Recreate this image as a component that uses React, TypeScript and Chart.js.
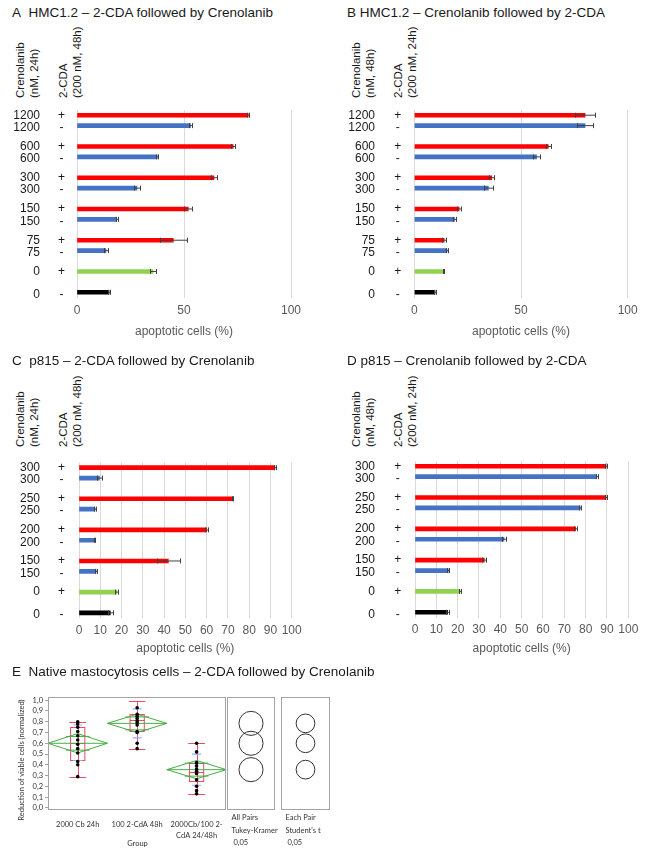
import React, { useEffect, useRef } from 'react';
import { Chart, registerables } from 'chart.js';

Chart.register(...registerables);

const FONT = '"Liberation Sans", Arial, Helvetica, sans-serif';
const EFONT = 'Lato, "Open Sans", sans-serif';

// ---------------- Panel A : HMC1.2 – 2-CDA followed by Crenolanib
const aTitle = 'A\u00a0\u00a0HMC1.2 – 2-CDA followed by Crenolanib';
const aHeadConc = ['Crenolanib', '(nM, 24h)'];
const aHeadCda = ['2-CDA', '(200 nM, 48h)'];
const aConc = ['1200', '1200', '600', '600', '300', '300', '150', '150', '75', '75', '0', '0'];
const aCda = ['+', '-', '+', '-', '+', '-', '+', '-', '+', '-', '+', '-'];
const aValues = [80, 53, 73, 37.5, 64, 28, 52, 18.5, 45, 13.5, 35.5, 15];
const aErrors = [0.5, 0.7, 1, 0.4, 1.3, 1.5, 1.8, 0.5, 6.2, 1, 1.3, 0.4];

// ---------------- Panel B : HMC1.2 – Crenolanib followed by 2-CDA
const bTitle = 'B HMC1.2 – Crenolanib followed by 2-CDA';
const bHeadConc = ['Crenolanib', '(nM, 48h)'];
const bHeadCda = ['2-CDA', '(200 nM, 24h)'];
const bConc = ['1200', '1200', '600', '600', '300', '300', '150', '150', '75', '75', '0', '0'];
const bCda = ['+', '-', '+', '-', '+', '-', '+', '-', '+', '-', '+', '-'];
const bValues = [80, 80, 62.8, 57.3, 36.3, 34.7, 21, 18.8, 14, 15.3, 13.8, 9.7];
const bErrors = [4.7, 3.7, 1.3, 1.5, 1.2, 2.2, 0.8, 0.8, 0.8, 0.4, 0.3, 0.5];

// ---------------- Panel C : p815 – 2-CDA followed by Crenolanib
const cTitle = 'C\u00a0\u00a0p815 – 2-CDA followed by Crenolanib';
const cHeadConc = ['Crenolanib', '(nM, 24h)'];
const cHeadCda = ['2-CDA', '(200 nM, 48h)'];
const cConc = ['300', '300', '250', '250', '200', '200', '150', '150', '0', '0'];
const cCda = ['+', '-', '+', '-', '+', '-', '+', '-', '+', '-'];
const cValues = [92.1, 9.6, 72.3, 7.5, 60, 7.2, 42, 8, 17.7, 14.7];
const cErrors = [0.5, 1, 0.3, 0.3, 0.7, 0.3, 5.3, 0.6, 0.8, 1.3];

// ---------------- Panel D : p815 – Crenolanib followed by 2-CDA
const dTitle = 'D p815 – Crenolanib followed by 2-CDA';
const dHeadConc = ['Crenolanib', '(nM, 48h)'];
const dHeadCda = ['2-CDA', '(200 nM, 24h)'];
const dConc = ['300', '300', '250', '250', '200', '200', '150', '150', '0', '0'];
const dCda = ['+', '-', '+', '-', '+', '-', '+', '-', '+', '-'];
const dValues = [89.5, 85.2, 89.5, 77.4, 75.3, 41.7, 32.5, 15.6, 21.1, 15.3];
const dErrors = [0.4, 0.5, 0.4, 0.6, 0.6, 0.8, 1, 0.5, 0.5, 0.6];

const xAxisTitle = 'apoptotic cells (%)';
const abTickStep = 50;
const cdTickStep = 10;

// ---------------- Panel E : Native mastocytosis cells
const eTitle = 'E\u00a0\u00a0Native mastocytosis cells – 2-CDA followed by Crenolanib';
const eYTitle = 'Reduction of viable cells (normalized)';
const eXTitle = 'Group';
const eGroupLines = [['2000 Cb 24h'], ['100 2-CdA 48h'], ['2000Cb/100 2-', 'CdA 24/48h']];
const eDots1 = [0.8, 0.78, 0.75, 0.71, 0.67, 0.63, 0.59, 0.55, 0.51, 0.43, 0.4, 0.29];
const eDots2 = [0.93, 0.87, 0.85, 0.83, 0.81, 0.79, 0.77, 0.71, 0.7, 0.6, 0.55];
const eDots3 = [0.6, 0.52, 0.42, 0.39, 0.36, 0.34, 0.32, 0.26, 0.2, 0.16, 0.13];
const eMeans = [0.6, 0.785, 0.355];
const eCI = [0.09, 0.085, 0.085];
const eWhiskerLo = [0.29, 0.55, 0.13];
const eQ1 = [0.44, 0.71, 0.25];
const eMedian = [0.6, 0.82, 0.33];
const eQ3 = [0.755, 0.87, 0.42];
const eWhiskerHi = [0.8, 0.99, 0.6];
const eSdLo = [0.44, 0.65, 0.21];
const eSdHi = [0.77, 0.92, 0.5];
const eTukeyRadius = [0.112, 0.112, 0.112];
const eStudentRadius = [0.087, 0.087, 0.087];
const eTukeyText = ['All Pairs', 'Tukey-Kramer', '\u00a00,05'];
const eStudentText = ['Each Pair', "Student's t", '\u00a00,05'];
const eYMin = -0.02;
const eYMax = 1.03;

// ---------------- styles
const RED = '#ff0000';
const BLUE = '#4472c4';
const GREEN = '#92d050';
const BLACK = '#000000';
const ERR = '#404040';
const GRID = '#d9d9d9';
const TICK = '#595959';
const TEXT = '#1a1a1a';

type Slot = { conc: string; cda: string; value: number; error: number; color: string } | null;

function colorFor(conc: string, cda: string) {
  if (conc === '0') return cda === '+' ? GREEN : BLACK;
  return cda === '+' ? RED : BLUE;
}

// a blank row separates concentration pairs; the two controls stand alone
function buildSlots(conc: string[], cda: string[], values: number[], errors: number[]): Slot[] {
  const slots: Slot[] = [];
  conc.forEach((c, i) => {
    if (i > 0 && (c !== conc[i - 1] || c === '0')) slots.push(null);
    slots.push({ conc: c, cda: cda[i], value: values[i], error: errors[i], color: colorFor(c, cda[i]) });
  });
  return slots;
}

type Box = { left: number; top: number; w: number; h: number };
type Area = { left: number; right: number; top: number; bottom: number };
type BarPanelCfg = {
  title: string;
  headConc: string[];
  headCda: string[];
  conc: string[];
  cda: string[];
  values: number[];
  errors: number[];
  step: number;
  box: Box;
  area: Area;
  numX: number;
  signX: number;
  tickPad: number;
  titlePos: { x: number; y: number };
  headX: [number, number];
  headBottom: number;
  axisTitleY: number;
};

const panels: BarPanelCfg[] = [
  {
    title: aTitle, headConc: aHeadConc, headCda: aHeadCda, conc: aConc, cda: aCda, values: aValues, errors: aErrors,
    step: abTickStep, box: { left: 0, top: 100, w: 325, h: 230 }, area: { left: 77, right: 291, top: 110, bottom: 297.5 },
    numX: 40, signX: 61.5, tickPad: 6, titlePos: { x: 12, y: 13 }, headX: [13, 56], headBottom: 98, axisTitleY: 331,
  },
  {
    title: bTitle, headConc: bHeadConc, headCda: bHeadCda, conc: bConc, cda: bCda, values: bValues, errors: bErrors,
    step: abTickStep, box: { left: 325, top: 100, w: 325, h: 230 }, area: { left: 414.3, right: 627.7, top: 110, bottom: 297.5 },
    numX: 375, signX: 397.7, tickPad: 6, titlePos: { x: 347, y: 13 }, headX: [349, 391], headBottom: 98, axisTitleY: 331,
  },
  {
    title: cTitle, headConc: cHeadConc, headCda: cHeadCda, conc: cConc, cda: cCda, values: cValues, errors: cErrors,
    step: cdTickStep, box: { left: 0, top: 450, w: 325, h: 200 }, area: { left: 79, right: 291.7, top: 462.5, bottom: 618 },
    numX: 40, signX: 61.5, tickPad: 5, titlePos: { x: 12, y: 361 }, headX: [13, 56], headBottom: 447, axisTitleY: 648,
  },
  {
    title: dTitle, headConc: dHeadConc, headCda: dHeadCda, conc: dConc, cda: dCda, values: dValues, errors: dErrors,
    step: cdTickStep, box: { left: 325, top: 450, w: 325, h: 200 }, area: { left: 415, right: 628.3, top: 461, bottom: 617.5 },
    numX: 375, signX: 397.7, tickPad: 5, titlePos: { x: 347, y: 361 }, headX: [349, 391], headBottom: 447, axisTitleY: 648,
  },
];

const LABEL_SHIFT: Record<string, number> = { '+': 0, '-': 2 };

function makeBarChart(canvas: HTMLCanvasElement, p: BarPanelCfg) {
  const slots = buildSlots(p.conc, p.cda, p.values, p.errors);
  const { box, area } = p;
  const errorBars = {
    id: 'errorBars',
    afterDatasetsDraw(chart: any) {
      const { ctx, scales } = chart;
      const x = scales.x;
      const y = scales.y;
      ctx.save();
      ctx.strokeStyle = ERR;
      ctx.lineWidth = 1;
      slots.forEach((s, i) => {
        if (!s) return;
        const py = y.getPixelForValue(i);
        const x1 = Math.round(x.getPixelForValue(s.value - s.error)) + 0.5;
        const x2 = Math.round(x.getPixelForValue(s.value + s.error)) + 0.5;
        ctx.beginPath();
        ctx.moveTo(x1, py);
        ctx.lineTo(x2, py);
        ctx.moveTo(x1, py - 2.5);
        ctx.lineTo(x1, py + 2.5);
        ctx.moveTo(x2, py - 2.5);
        ctx.lineTo(x2, py + 2.5);
        ctx.stroke();
      });
      ctx.restore();
    },
  };
  const rowLabels = {
    id: 'rowLabels',
    afterDraw(chart: any) {
      const { ctx } = chart;
      const y = chart.scales.y;
      ctx.save();
      ctx.font = `12px ${FONT}`;
      ctx.fillStyle = TEXT;
      ctx.textBaseline = 'middle';
      slots.forEach((s, i) => {
        if (!s) return;
        const py = y.getPixelForValue(i) + (LABEL_SHIFT[s.cda] || 0);
        ctx.textAlign = 'right';
        ctx.fillText(s.conc, p.numX - box.left, py);
        ctx.textAlign = 'center';
        ctx.fillText(s.cda, p.signX - box.left, py);
      });
      ctx.restore();
    },
  };
  return new Chart(canvas, {
    type: 'bar',
    data: {
      labels: slots.map((_, i) => String(i)),
      datasets: [
        {
          data: slots.map((s) => (s ? s.value : null)),
          backgroundColor: slots.map((s) => (s ? s.color : 'rgba(0,0,0,0)')),
          borderWidth: 0,
          barThickness: 4,
        },
      ],
    },
    options: {
      indexAxis: 'y',
      animation: false,
      responsive: false,
      maintainAspectRatio: false,
      layout: {
        padding: {
          left: area.left - box.left,
          right: box.left + box.w - area.right,
          top: area.top - box.top,
          bottom: 0,
        },
      },
      plugins: { legend: { display: false }, tooltip: { enabled: false } },
      scales: {
        y: { display: false },
        x: {
          min: 0,
          max: 100,
          ticks: {
            stepSize: p.step,
            color: TICK,
            font: { family: FONT, size: 12 },
            padding: p.tickPad,
            maxRotation: 0,
            autoSkip: false,
          },
          grid: { color: GRID, lineWidth: 1, drawTicks: false },
          border: { display: false },
          afterFit: (s: any) => {
            s.height = box.top + box.h - area.bottom;
          },
        },
      },
    } as any,
    plugins: [errorBars, rowLabels],
  });
}

const framePlugin = {
  id: 'frame',
  afterDraw(chart: any) {
    const { ctx, chartArea: a } = chart;
    ctx.save();
    ctx.strokeStyle = '#a3a3a3';
    ctx.lineWidth = 1;
    ctx.strokeRect(Math.round(a.left) + 0.5, Math.round(a.top) + 0.5, Math.round(a.right - a.left) - 1, Math.round(a.bottom - a.top) - 1);
    ctx.restore();
  },
};

const E_BOX = { left: 0, top: 690, w: 232, h: 170 };
const E_AREA = { left: 48, right: 227, top: 697, bottom: 810 };
const BOX_RED = 'rgba(236, 64, 92, 0.95)';
const DIAMOND = '#46ad46';
const SD_BLUE = '#8fb0ff';
const E_FS = 7.5;

function makeEChart(canvas: HTMLCanvasElement) {
  const groups = [eDots1, eDots2, eDots3];
  const datasets: any[] = [];
  datasets.push({
    data: groups.flatMap((g, gi) => g.map((v) => ({ x: gi + 0.5, y: v }))),
    pointRadius: 1.8,
    pointBackgroundColor: '#000',
    pointBorderWidth: 0,
    showLine: false,
  });
  datasets.push({
    data: eSdLo.flatMap((lo, gi) => [{ x: gi + 0.5, y: lo }, { x: gi + 0.5, y: eSdHi[gi] }]),
    pointStyle: 'line',
    pointRadius: 4.5,
    pointBorderColor: SD_BLUE,
    pointBorderWidth: 1.2,
    showLine: false,
  });
  const lineDs = (pts: { x: number; y: number }[]) => ({
    data: pts,
    showLine: true,
    borderColor: DIAMOND,
    borderWidth: 1,
    pointRadius: 0,
    fill: false,
    tension: 0,
  });
  eMeans.forEach((m, gi) => {
    const ci = eCI[gi];
    const c = gi + 0.5;
    const ov = ci * Math.SQRT1_2;
    datasets.push(lineDs([{ x: gi, y: m }, { x: c, y: m + ci }, { x: gi + 1, y: m }, { x: c, y: m - ci }, { x: gi, y: m }]));
    datasets.push(lineDs([{ x: gi, y: m }, { x: gi + 1, y: m }]));
    datasets.push(lineDs([{ x: c - 0.2, y: m + ov }, { x: c + 0.2, y: m + ov }]));
    datasets.push(lineDs([{ x: c - 0.2, y: m - ov }, { x: c + 0.2, y: m - ov }]));
  });
  const boxPlot = {
    id: 'boxPlot',
    beforeDatasetsDraw(chart: any) {
      const { ctx } = chart;
      const x = chart.scales.x;
      const y = chart.scales.y;
      ctx.save();
      ctx.strokeStyle = BOX_RED;
      ctx.lineWidth = 1;
      eQ1.forEach((q1, gi) => {
        const cx = Math.round(x.getPixelForValue(gi + 0.5)) + 0.5;
        const bl = x.getPixelForValue(gi + 0.38);
        const br = x.getPixelForValue(gi + 0.62);
        const cl = x.getPixelForValue(gi + 0.36);
        const cr = x.getPixelForValue(gi + 0.64);
        const py = (v: number) => Math.round(y.getPixelForValue(v)) + 0.5;
        ctx.beginPath();
        ctx.moveTo(cx, py(eWhiskerLo[gi]));
        ctx.lineTo(cx, py(eWhiskerHi[gi]));
        ctx.moveTo(cl, py(eWhiskerLo[gi]));
        ctx.lineTo(cr, py(eWhiskerLo[gi]));
        ctx.moveTo(cl, py(eWhiskerHi[gi]));
        ctx.lineTo(cr, py(eWhiskerHi[gi]));
        ctx.moveTo(bl, py(eMedian[gi]));
        ctx.lineTo(br, py(eMedian[gi]));
        ctx.stroke();
        ctx.strokeRect(bl, py(eQ3[gi]), br - bl, py(q1) - py(eQ3[gi]));
      });
      ctx.restore();
    },
  };
  return new Chart(canvas, {
    type: 'scatter',
    data: { datasets },
    options: {
      animation: false,
      responsive: false,
      maintainAspectRatio: false,
      layout: { padding: { top: E_AREA.top - E_BOX.top, right: E_BOX.left + E_BOX.w - E_AREA.right, left: 0, bottom: 0 } },
      plugins: { legend: { display: false }, tooltip: { enabled: false } },
      scales: {
        x: {
          type: 'linear',
          min: 0,
          max: 3,
          afterBuildTicks: (s: any) => {
            s.ticks = eGroupLines.map((_, i) => ({ value: i + 0.5 }));
          },
          ticks: {
            callback: (_v: any, i: number) => eGroupLines[i],
            font: { family: EFONT, size: E_FS, lineHeight: 1.5 },
            color: '#333',
            padding: 1,
            maxRotation: 0,
            autoSkip: false,
          },
          grid: { display: false },
          border: { display: false },
          afterFit: (s: any) => {
            s.height = E_BOX.top + E_BOX.h - E_AREA.bottom;
          },
        },
        y: {
          min: eYMin,
          max: eYMax,
          ticks: {
            stepSize: 0.1,
            includeBounds: false,
            autoSkip: false,
            callback: (v: any) => Number(v).toFixed(1).replace('.', ','),
            font: { family: EFONT, size: E_FS },
            color: '#333',
            padding: 2,
          },
          grid: { drawOnChartArea: false, tickLength: 3, color: '#a3a3a3' },
          border: { display: false },
          afterFit: (s: any) => {
            s.width = E_AREA.left - E_BOX.left;
          },
        },
      },
    } as any,
    plugins: [boxPlot, framePlugin],
  });
}

function makeCircleChart(canvas: HTMLCanvasElement, radii: number[]) {
  return new Chart(canvas, {
    type: 'scatter',
    data: {
      datasets: [
        {
          data: eMeans.map((m) => ({ x: 0.5, y: m })),
          pointStyle: 'circle',
          pointBackgroundColor: 'rgba(0,0,0,0)',
          pointBorderColor: '#333',
          pointBorderWidth: 1,
          pointRadius: (ctx: any) => {
            const ys = ctx.chart.scales.y;
            return Math.abs(ys.getPixelForValue(0) - ys.getPixelForValue(radii[ctx.dataIndex]));
          },
        },
      ],
    },
    options: {
      animation: false,
      responsive: false,
      maintainAspectRatio: false,
      layout: { padding: { top: 7, bottom: 5, left: 0, right: 0 } },
      plugins: { legend: { display: false }, tooltip: { enabled: false } },
      scales: {
        x: { display: false, type: 'linear', min: 0, max: 1 },
        y: { display: false, min: eYMin, max: eYMax },
      },
    } as any,
    plugins: [framePlugin],
  });
}

function BarPanel({ cfg }: { cfg: BarPanelCfg }) {
  const ref = useRef<HTMLCanvasElement>(null);
  useEffect(() => {
    const chart = makeBarChart(ref.current as HTMLCanvasElement, cfg);
    return () => chart.destroy();
  }, [cfg]);
  const { box, area } = cfg;
  const head = (lines: string[], left: number) => (
    <div
      style={{
        position: 'absolute',
        left,
        top: cfg.headBottom,
        transform: 'rotate(-90deg)',
        transformOrigin: '0 0',
        whiteSpace: 'pre',
        font: `11.5px ${FONT}`,
        lineHeight: '14px',
        color: TEXT,
      }}
    >
      {lines.join('\n')}
    </div>
  );
  const center = (area.left + area.right) / 2;
  return (
    <>
      <div
        style={{
          position: 'absolute',
          left: cfg.titlePos.x,
          top: cfg.titlePos.y - 8,
          font: `13.5px ${FONT}`,
          lineHeight: '16px',
          color: TEXT,
          whiteSpace: 'pre',
        }}
      >
        {cfg.title}
      </div>
      {head(cfg.headConc, cfg.headX[0])}
      {head(cfg.headCda, cfg.headX[1])}
      <canvas
        ref={ref}
        width={box.w}
        height={box.h}
        style={{ position: 'absolute', left: box.left, top: box.top, width: box.w, height: box.h }}
      />
      <div
        style={{
          position: 'absolute',
          left: center - 100,
          width: 200,
          top: cfg.axisTitleY - 8,
          textAlign: 'center',
          font: `12px ${FONT}`,
          lineHeight: '16px',
          color: TICK,
        }}
      >
        {xAxisTitle}
      </div>
    </>
  );
}

function EPanel() {
  const mainRef = useRef<HTMLCanvasElement>(null);
  const tukeyRef = useRef<HTMLCanvasElement>(null);
  const studentRef = useRef<HTMLCanvasElement>(null);
  useEffect(() => {
    const c1 = makeEChart(mainRef.current as HTMLCanvasElement);
    const c2 = makeCircleChart(tukeyRef.current as HTMLCanvasElement, eTukeyRadius);
    const c3 = makeCircleChart(studentRef.current as HTMLCanvasElement, eStudentRadius);
    return () => {
      c1.destroy();
      c2.destroy();
      c3.destroy();
    };
  }, []);
  const small = (lh: number) => ({ font: `${E_FS}px ${EFONT}`, lineHeight: `${lh}px`, color: '#333' });
  const circBox = (left: number, w: number) => ({ position: 'absolute' as const, left, top: 690, width: w, height: 125 });
  const note = (lines: string[], left: number) => (
    <div style={{ position: 'absolute', left, top: 812, whiteSpace: 'pre', ...small(12.5) }}>{lines.join('\n')}</div>
  );
  return (
    <>
      <div
        style={{ position: 'absolute', left: 12, top: 664, font: `13.5px ${FONT}`, lineHeight: '16px', color: TEXT, whiteSpace: 'pre' }}
      >
        {eTitle}
      </div>
      <div
        style={{
          position: 'absolute',
          left: 22 - 100,
          width: 200,
          top: 760 - 5,
          textAlign: 'center',
          transform: 'rotate(-90deg)',
          transformOrigin: '50% 50%',
          whiteSpace: 'nowrap',
          ...small(10),
        }}
      >
        {eYTitle}
      </div>
      <canvas
        ref={mainRef}
        width={E_BOX.w}
        height={E_BOX.h}
        style={{ position: 'absolute', left: E_BOX.left, top: E_BOX.top, width: E_BOX.w, height: E_BOX.h }}
      />
      <canvas ref={tukeyRef} width={48} height={125} style={circBox(227, 48)} />
      <canvas ref={studentRef} width={49} height={125} style={circBox(281, 49)} />
      <div
        style={{
          position: 'absolute',
          left: (E_AREA.left + E_AREA.right) / 2 - 50,
          width: 100,
          top: 844 - 5,
          textAlign: 'center',
          ...small(10),
        }}
      >
        {eXTitle}
      </div>
      {note(eTukeyText, 231.5)}
      {note(eStudentText, 285.5)}
    </>
  );
}

export default function App() {
  return (
    <div style={{ position: 'absolute', left: 0, top: 0, width: 650, height: 859, background: '#fff', overflow: 'hidden' }}>
      {panels.map((p, i) => (
        <BarPanel key={i} cfg={p} />
      ))}
      <EPanel />
    </div>
  );
}
